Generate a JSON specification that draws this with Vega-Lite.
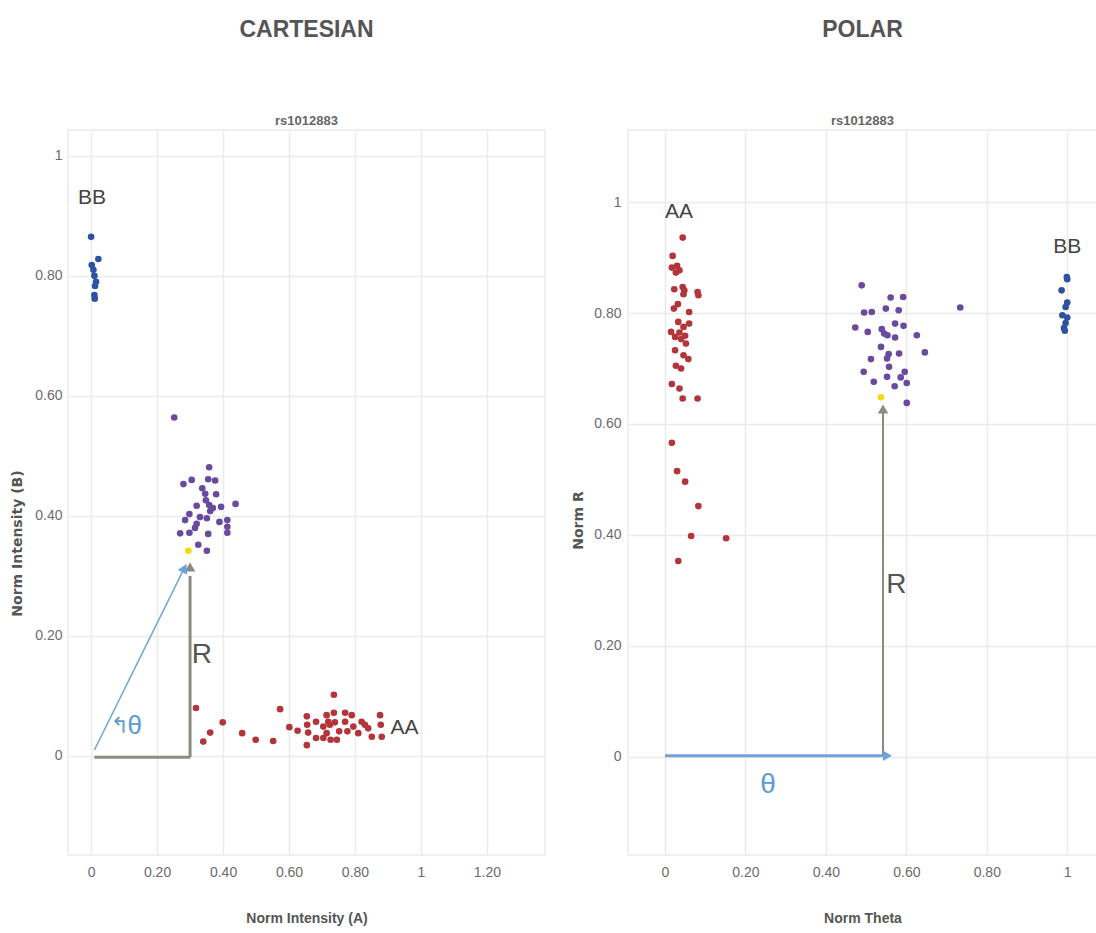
{
  "$schema": "https://vega.github.io/schema/vega-lite/v6.json",
  "background": "white",
  "padding": {"left": 10, "top": 18, "right": 0, "bottom": 2},
  "datasets": {
    "cart": [
      {"x": 0.0, "y": 0.865, "g": "BB"}, {"x": 0.022, "y": 0.828, "g": "BB"}, {"x": 0.002, "y": 0.818, "g": "BB"},
      {"x": 0.007, "y": 0.81, "g": "BB"}, {"x": 0.01, "y": 0.8, "g": "BB"}, {"x": 0.015, "y": 0.79, "g": "BB"},
      {"x": 0.012, "y": 0.783, "g": "BB"}, {"x": 0.01, "y": 0.768, "g": "BB"}, {"x": 0.011, "y": 0.762, "g": "BB"},
      {"x": 0.252, "y": 0.564, "g": "AB"}, {"x": 0.358, "y": 0.481, "g": "AB"}, {"x": 0.28, "y": 0.453, "g": "AB"},
      {"x": 0.305, "y": 0.46, "g": "AB"}, {"x": 0.355, "y": 0.461, "g": "AB"}, {"x": 0.376, "y": 0.459, "g": "AB"},
      {"x": 0.337, "y": 0.446, "g": "AB"}, {"x": 0.346, "y": 0.437, "g": "AB"}, {"x": 0.379, "y": 0.436, "g": "AB"},
      {"x": 0.348, "y": 0.426, "g": "AB"}, {"x": 0.358, "y": 0.418, "g": "AB"}, {"x": 0.32, "y": 0.417, "g": "AB"},
      {"x": 0.438, "y": 0.42, "g": "AB"}, {"x": 0.394, "y": 0.415, "g": "AB"}, {"x": 0.298, "y": 0.403, "g": "AB"},
      {"x": 0.361, "y": 0.408, "g": "AB"}, {"x": 0.369, "y": 0.413, "g": "AB"}, {"x": 0.285, "y": 0.393, "g": "AB"},
      {"x": 0.33, "y": 0.398, "g": "AB"}, {"x": 0.351, "y": 0.396, "g": "AB"}, {"x": 0.32, "y": 0.387, "g": "AB"},
      {"x": 0.389, "y": 0.39, "g": "AB"}, {"x": 0.413, "y": 0.393, "g": "AB"}, {"x": 0.413, "y": 0.382, "g": "AB"},
      {"x": 0.315, "y": 0.38, "g": "AB"}, {"x": 0.27, "y": 0.371, "g": "AB"}, {"x": 0.298, "y": 0.372, "g": "AB"},
      {"x": 0.355, "y": 0.37, "g": "AB"}, {"x": 0.413, "y": 0.372, "g": "AB"}, {"x": 0.325, "y": 0.352, "g": "AB"},
      {"x": 0.351, "y": 0.342, "g": "AB"},
      {"x": 0.318, "y": 0.08, "g": "AA"}, {"x": 0.34, "y": 0.024, "g": "AA"}, {"x": 0.361, "y": 0.039, "g": "AA"},
      {"x": 0.399, "y": 0.056, "g": "AA"}, {"x": 0.458, "y": 0.038, "g": "AA"}, {"x": 0.499, "y": 0.027, "g": "AA"},
      {"x": 0.552, "y": 0.025, "g": "AA"}, {"x": 0.573, "y": 0.078, "g": "AA"}, {"x": 0.601, "y": 0.048, "g": "AA"},
      {"x": 0.626, "y": 0.042, "g": "AA"}, {"x": 0.654, "y": 0.066, "g": "AA"}, {"x": 0.655, "y": 0.052, "g": "AA"},
      {"x": 0.658, "y": 0.039, "g": "AA"}, {"x": 0.654, "y": 0.018, "g": "AA"}, {"x": 0.682, "y": 0.057, "g": "AA"},
      {"x": 0.682, "y": 0.03, "g": "AA"}, {"x": 0.704, "y": 0.049, "g": "AA"}, {"x": 0.714, "y": 0.068, "g": "AA"},
      {"x": 0.719, "y": 0.057, "g": "AA"}, {"x": 0.714, "y": 0.038, "g": "AA"}, {"x": 0.724, "y": 0.052, "g": "AA"},
      {"x": 0.736, "y": 0.102, "g": "AA"}, {"x": 0.736, "y": 0.072, "g": "AA"}, {"x": 0.739, "y": 0.056, "g": "AA"},
      {"x": 0.745, "y": 0.027, "g": "AA"}, {"x": 0.752, "y": 0.041, "g": "AA"}, {"x": 0.77, "y": 0.072, "g": "AA"},
      {"x": 0.77, "y": 0.057, "g": "AA"}, {"x": 0.777, "y": 0.041, "g": "AA"}, {"x": 0.79, "y": 0.068, "g": "AA"},
      {"x": 0.795, "y": 0.049, "g": "AA"}, {"x": 0.81, "y": 0.038, "g": "AA"}, {"x": 0.82, "y": 0.057, "g": "AA"},
      {"x": 0.83, "y": 0.052, "g": "AA"}, {"x": 0.84, "y": 0.046, "g": "AA"}, {"x": 0.851, "y": 0.032, "g": "AA"},
      {"x": 0.876, "y": 0.068, "g": "AA"}, {"x": 0.878, "y": 0.052, "g": "AA"}, {"x": 0.881, "y": 0.032, "g": "AA"},
      {"x": 0.704, "y": 0.03, "g": "AA"}, {"x": 0.726, "y": 0.027, "g": "AA"},
      {"x": 0.295, "y": 0.342, "g": "S"}
    ],
    "polar": [
      {"x": 0.044, "y": 0.936, "g": "AA"}, {"x": 0.019, "y": 0.903, "g": "AA"}, {"x": 0.017, "y": 0.882, "g": "AA"},
      {"x": 0.03, "y": 0.885, "g": "AA"}, {"x": 0.036, "y": 0.877, "g": "AA"}, {"x": 0.027, "y": 0.873, "g": "AA"},
      {"x": 0.023, "y": 0.843, "g": "AA"}, {"x": 0.044, "y": 0.847, "g": "AA"}, {"x": 0.048, "y": 0.841, "g": "AA"},
      {"x": 0.046, "y": 0.834, "g": "AA"}, {"x": 0.081, "y": 0.838, "g": "AA"}, {"x": 0.083, "y": 0.832, "g": "AA"},
      {"x": 0.032, "y": 0.816, "g": "AA"}, {"x": 0.022, "y": 0.808, "g": "AA"}, {"x": 0.06, "y": 0.802, "g": "AA"},
      {"x": 0.033, "y": 0.784, "g": "AA"}, {"x": 0.06, "y": 0.781, "g": "AA"}, {"x": 0.046, "y": 0.775, "g": "AA"},
      {"x": 0.015, "y": 0.766, "g": "AA"}, {"x": 0.036, "y": 0.765, "g": "AA"}, {"x": 0.025, "y": 0.757, "g": "AA"},
      {"x": 0.05, "y": 0.759, "g": "AA"}, {"x": 0.04, "y": 0.753, "g": "AA"}, {"x": 0.052, "y": 0.745, "g": "AA"},
      {"x": 0.025, "y": 0.733, "g": "AA"}, {"x": 0.046, "y": 0.724, "g": "AA"}, {"x": 0.058, "y": 0.717, "g": "AA"},
      {"x": 0.027, "y": 0.705, "g": "AA"}, {"x": 0.04, "y": 0.7, "g": "AA"}, {"x": 0.017, "y": 0.672, "g": "AA"},
      {"x": 0.036, "y": 0.664, "g": "AA"}, {"x": 0.044, "y": 0.646, "g": "AA"}, {"x": 0.081, "y": 0.646, "g": "AA"},
      {"x": 0.017, "y": 0.566, "g": "AA"}, {"x": 0.03, "y": 0.515, "g": "AA"}, {"x": 0.05, "y": 0.496, "g": "AA"},
      {"x": 0.083, "y": 0.452, "g": "AA"}, {"x": 0.065, "y": 0.398, "g": "AA"}, {"x": 0.152, "y": 0.394, "g": "AA"},
      {"x": 0.033, "y": 0.353, "g": "AA"},
      {"x": 0.489, "y": 0.85, "g": "AB"}, {"x": 0.561, "y": 0.828, "g": "AB"}, {"x": 0.592, "y": 0.829, "g": "AB"},
      {"x": 0.549, "y": 0.808, "g": "AB"}, {"x": 0.581, "y": 0.805, "g": "AB"}, {"x": 0.495, "y": 0.801, "g": "AB"},
      {"x": 0.514, "y": 0.802, "g": "AB"}, {"x": 0.734, "y": 0.81, "g": "AB"}, {"x": 0.473, "y": 0.774, "g": "AB"},
      {"x": 0.504, "y": 0.766, "g": "AB"}, {"x": 0.539, "y": 0.771, "g": "AB"}, {"x": 0.572, "y": 0.781, "g": "AB"},
      {"x": 0.593, "y": 0.777, "g": "AB"}, {"x": 0.553, "y": 0.76, "g": "AB"}, {"x": 0.572, "y": 0.756, "g": "AB"},
      {"x": 0.545, "y": 0.763, "g": "AB"}, {"x": 0.626, "y": 0.76, "g": "AB"}, {"x": 0.537, "y": 0.739, "g": "AB"},
      {"x": 0.556, "y": 0.726, "g": "AB"}, {"x": 0.582, "y": 0.727, "g": "AB"}, {"x": 0.646, "y": 0.729, "g": "AB"},
      {"x": 0.552, "y": 0.718, "g": "AB"}, {"x": 0.512, "y": 0.717, "g": "AB"}, {"x": 0.557, "y": 0.703, "g": "AB"},
      {"x": 0.494, "y": 0.694, "g": "AB"}, {"x": 0.596, "y": 0.694, "g": "AB"}, {"x": 0.552, "y": 0.685, "g": "AB"},
      {"x": 0.586, "y": 0.684, "g": "AB"}, {"x": 0.519, "y": 0.676, "g": "AB"}, {"x": 0.601, "y": 0.674, "g": "AB"},
      {"x": 0.571, "y": 0.668, "g": "AB"}, {"x": 0.601, "y": 0.638, "g": "AB"},
      {"x": 0.999, "y": 0.865, "g": "BB"}, {"x": 1.0, "y": 0.861, "g": "BB"}, {"x": 0.986, "y": 0.841, "g": "BB"},
      {"x": 1.0, "y": 0.819, "g": "BB"}, {"x": 0.996, "y": 0.811, "g": "BB"}, {"x": 0.988, "y": 0.796, "g": "BB"},
      {"x": 1.0, "y": 0.792, "g": "BB"}, {"x": 0.996, "y": 0.782, "g": "BB"}, {"x": 0.992, "y": 0.773, "g": "BB"},
      {"x": 0.994, "y": 0.768, "g": "BB"},
      {"x": 0.537, "y": 0.648, "g": "S"}
    ]
  },
  "config": {
    "view": {"stroke": "#ebebeb", "strokeWidth": 1.5},
    "axis": {
      "domain": false, "ticks": false, "grid": true, "gridColor": "#ebebeb", "gridWidth": 1.5,
      "labelColor": "#6b6b6b", "labelFont": "Liberation Sans", "labelFontSize": 14,
      "titleFont": "Liberation Sans", "titleColor": "#555555", "titleFontSize": 14, "titleFontWeight": "bold"
    },
    "title": {
      "font": "Liberation Sans", "fontSize": 23, "fontWeight": "bold", "color": "#555555",
      "subtitleFont": "Liberation Sans", "subtitleFontSize": 13, "subtitleFontWeight": "bold",
      "subtitleColor": "#666666", "subtitlePadding": 73, "offset": 2, "anchor": "middle"
    },
    "concat": {"spacing": 25}
  },
  "hconcat": [
    {
      "title": {"text": "CARTESIAN", "subtitle": "rs1012883"},
      "width": 477, "height": 725,
      "encoding": {
        "x": {"field": "x", "type": "quantitative", "scale": {"domain": [-0.07, 1.376], "nice": false, "zero": false},
              "axis": {"values": [0, 0.2, 0.4, 0.6, 0.8, 1, 1.2], "labelExpr": "datum.value == 0 ? '0' : datum.value == 1 ? '1' : format(datum.value, '.2f')", "labelPadding": 10, "titlePadding": 32},
              "title": "Norm Intensity (A)"},
        "y": {"field": "y", "type": "quantitative", "scale": {"domain": [-0.165, 1.043], "nice": false, "zero": false},
              "axis": {"values": [0, 0.2, 0.4, 0.6, 0.8, 1], "labelExpr": "datum.value == 0 ? '0' : datum.value == 1 ? '1' : format(datum.value, '.2f')", "labelPadding": 6, "titlePadding": 10, "titleFont": "DejaVu Sans", "titleFontSize": 14, "titleY": 413},
              "title": "Norm Intensity (B)"}
      },
      "layer": [
        {
          "data": {"values": [{"x": 0.01, "y": -0.002, "x2": 0.3, "y2": -0.002}, {"x": 0.3, "y": -0.002, "x2": 0.3, "y2": 0.3}]},
          "mark": {"type": "rule", "color": "#8c8c7e", "strokeWidth": 3},
          "encoding": {"x2": {"field": "x2"}, "y2": {"field": "y2"}}
        },
        {
          "data": {"values": [{"x": 0.01, "y": 0.01, "x2": 0.28, "y2": 0.31}]},
          "mark": {"type": "rule", "color": "#6fa3d8", "strokeWidth": 1.5},
          "encoding": {"x2": {"field": "x2"}, "y2": {"field": "y2"}}
        },
        {
          "data": {"values": [{"x": 0.3, "y": 0.315}]},
          "mark": {"type": "point", "shape": "triangle-up", "filled": true, "color": "#8c8c7e", "size": 110, "opacity": 1},
          "encoding": {}
        },
        {
          "data": {"values": [{"x": 0.283, "y": 0.313}]},
          "mark": {"type": "point", "shape": "triangle-up", "filled": true, "color": "#6fa3d8", "size": 110, "opacity": 1, "angle": 26},
          "encoding": {}
        },
        {
          "data": {"name": "cart"},
          "mark": {"type": "circle", "size": 44, "opacity": 1},
          "encoding": {"color": {"field": "g", "type": "nominal", "scale": {"domain": ["AA", "AB", "BB", "S"], "range": ["#b3353a", "#6a4a9e", "#2d52a0", "#f5d90a"]}, "legend": null}}
        },
        {
          "data": {"values": [{"x": 0.003, "y": 0.93, "t": "BB"}, {"x": 0.95, "y": 0.047, "t": "AA"}]},
          "mark": {"type": "text", "font": "Liberation Sans", "fontSize": 21, "color": "#444444", "align": "center", "baseline": "middle"},
          "encoding": {"text": {"field": "t"}}
        },
        {
          "data": {"values": [{"x": 0.305, "y": 0.168, "t": "R"}]},
          "mark": {"type": "text", "font": "Liberation Sans", "fontSize": 28, "color": "#555555", "align": "left", "baseline": "middle"},
          "encoding": {"text": {"field": "t"}}
        },
        {
          "data": {"values": [{"x": 0.087, "y": 0.05, "t": "↰"}]},
          "mark": {"type": "text", "font": "DejaVu Sans", "fontSize": 22, "color": "#5b9bd5", "align": "center", "baseline": "middle"},
          "encoding": {"text": {"field": "t"}}
        },
        {
          "data": {"values": [{"x": 0.132, "y": 0.05, "t": "θ"}]},
          "mark": {"type": "text", "font": "Liberation Sans", "fontSize": 26, "color": "#5b9bd5", "align": "center", "baseline": "middle"},
          "encoding": {"text": {"field": "t"}}
        }
      ]
    },
    {
      "title": {"text": "POLAR", "subtitle": "rs1012883"},
      "width": 469, "height": 725,
      "encoding": {
        "x": {"field": "x", "type": "quantitative", "scale": {"domain": [-0.092, 1.074], "nice": false, "zero": false},
              "axis": {"values": [0, 0.2, 0.4, 0.6, 0.8, 1], "labelExpr": "datum.value == 0 ? '0' : datum.value == 1 ? '1' : format(datum.value, '.2f')", "labelPadding": 10, "titlePadding": 32},
              "title": "Norm Theta"},
        "y": {"field": "y", "type": "quantitative", "scale": {"domain": [-0.177, 1.13], "nice": false, "zero": false},
              "axis": {"values": [0, 0.2, 0.4, 0.6, 0.8, 1], "labelExpr": "datum.value == 0 ? '0' : datum.value == 1 ? '1' : format(datum.value, '.2f')", "labelPadding": 7, "titlePadding": 8, "titleFont": "DejaVu Sans", "titleFontSize": 14, "titleY": 390},
              "title": "Norm R"}
      },
      "layer": [
        {
          "data": {"values": [{"x": 0.542, "y": 0.0, "x2": 0.542, "y2": 0.62}]},
          "mark": {"type": "rule", "color": "#8c8c7e", "strokeWidth": 2},
          "encoding": {"x2": {"field": "x2"}, "y2": {"field": "y2"}}
        },
        {
          "data": {"values": [{"x": 0.0, "y": 0.002, "x2": 0.54, "y2": 0.002}]},
          "mark": {"type": "rule", "color": "#6fa3d8", "strokeWidth": 3},
          "encoding": {"x2": {"field": "x2"}, "y2": {"field": "y2"}}
        },
        {
          "data": {"values": [{"x": 0.542, "y": 0.627}]},
          "mark": {"type": "point", "shape": "triangle-up", "filled": true, "color": "#8c8c7e", "size": 110, "opacity": 1},
          "encoding": {}
        },
        {
          "data": {"values": [{"x": 0.553, "y": 0.002}]},
          "mark": {"type": "point", "shape": "triangle-right", "filled": true, "color": "#6fa3d8", "size": 110, "opacity": 1},
          "encoding": {}
        },
        {
          "data": {"name": "polar"},
          "mark": {"type": "circle", "size": 44, "opacity": 1},
          "encoding": {"color": {"field": "g", "type": "nominal", "scale": {"domain": ["AA", "AB", "BB", "S"], "range": ["#b3353a", "#6a4a9e", "#2d52a0", "#f5d90a"]}, "legend": null}}
        },
        {
          "data": {"values": [{"x": 0.035, "y": 0.982, "t": "AA"}, {"x": 1.0, "y": 0.919, "t": "BB"}]},
          "mark": {"type": "text", "font": "Liberation Sans", "fontSize": 21, "color": "#444444", "align": "center", "baseline": "middle"},
          "encoding": {"text": {"field": "t"}}
        },
        {
          "data": {"values": [{"x": 0.55, "y": 0.31, "t": "R"}]},
          "mark": {"type": "text", "font": "Liberation Sans", "fontSize": 28, "color": "#555555", "align": "left", "baseline": "middle"},
          "encoding": {"text": {"field": "t"}}
        },
        {
          "data": {"values": [{"x": 0.256, "y": -0.05, "t": "θ"}]},
          "mark": {"type": "text", "font": "Liberation Sans", "fontSize": 28, "color": "#5b9bd5", "align": "center", "baseline": "middle"},
          "encoding": {"text": {"field": "t"}}
        }
      ]
    }
  ]
}
